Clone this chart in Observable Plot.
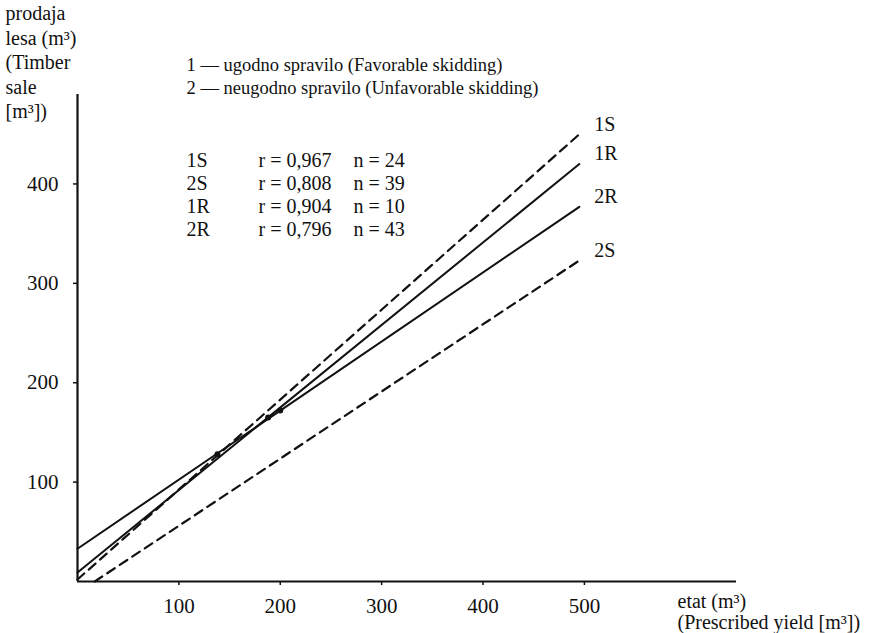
<!DOCTYPE html>
<html>
<head>
<meta charset="utf-8">
<script src="https://cdn.jsdelivr.net/npm/d3@7"></script>
<script src="https://cdn.jsdelivr.net/npm/@observablehq/plot@0.6"></script>
<style>
  html, body { margin: 0; padding: 0; background: #fff; }
  #chart svg { display: block; }
</style>
</head>
<body>
<div id="chart"></div>
<script>
// ---- data ----
const series = ["1S", "2S", "1R", "2R"];
const startX = [0, 17, 0, 0];
const startY = [2, 0, 9, 33];
const endX = [495, 495, 495, 495];
const endY = [450, 323, 420, 377];
const rValues = ["0,967", "0,808", "0,904", "0,796"];
const nValues = [24, 39, 10, 43];
const markX = [138, 188, 200];
const markY = [128, 165, 172];
const xTicks = [100, 200, 300, 400, 500];
const yTicks = [100, 200, 300, 400];
const yTitle = ["prodaja", "lesa (m³)", "(Timber", "sale", "[m³])"];
const legendLines = ["1 — ugodno spravilo (Favorable skidding)", "2 — neugodno spravilo (Unfavorable skidding)"];
const xTitle = ["etat (m³)", "(Prescribed yield [m³])"];

// ---- build tables ----
const pts = [];
series.forEach((s, i) => {
  pts.push({series: s, x: startX[i], y: startY[i]});
  pts.push({series: s, x: endX[i], y: endY[i]});
});
const ends = series.map((s, i) => ({series: s, x: endX[i], y: endY[i]}));
const marks = markX.map((x, i) => ({x, y: markY[i]}));
const isS = d => d.series.endsWith("S");

const font = "'Liberation Serif', 'Times New Roman', serif";
const fs = 20;

const chart = Plot.plot({
  width: 885,
  height: 633,
  marginLeft: 77,
  marginRight: 149,
  marginTop: 94,
  marginBottom: 52,
  style: {fontFamily: font, fontSize: fs + "px", background: "#fff", color: "#111"},
  x: {domain: [0, 650]},
  y: {domain: [0, 490]},
  marks: [
    Plot.ruleX([0], {stroke: "#111", strokeWidth: 2.2}),
    Plot.ruleY([0], {stroke: "#111", strokeWidth: 2.2}),
    Plot.axisX({ticks: xTicks, tickSize: 4, tickPadding: 13, fontSize: 21, label: null, stroke: "#111", strokeWidth: 1.5}),
    Plot.axisY({ticks: yTicks, tickSize: 4, tickPadding: 15, fontSize: 21, label: null, stroke: "#111", strokeWidth: 1.5}),
    Plot.line(pts.filter(d => !isS(d)), {x: "x", y: "y", z: "series", stroke: "#111", strokeWidth: 2}),
    Plot.line(pts.filter(isS), {x: "x", y: "y", z: "series", stroke: "#111", strokeWidth: 2.2, strokeDasharray: "9,6"}),
    Plot.dot(marks, {x: "x", y: "y", r: 3, fill: "#111"}),
    Plot.text(ends, {x: "x", y: "y", text: "series", dx: 15, dy: -10, textAnchor: "start", fontSize: fs, fill: "#111"}),
    // y axis title (top-left)
    Plot.text([yTitle.join("\n")], {frameAnchor: "top-left", dx: -72, dy: -91.5, lineAnchor: "top", lineHeight: 1.225, textAnchor: "start", fontSize: fs, fill: "#111"}),
    // legend
    Plot.text([legendLines.join("\n")], {frameAnchor: "top-left", dx: 109, dy: -39.5, lineAnchor: "top", lineHeight: 1.22, textAnchor: "start", fontSize: 18.5, fill: "#111"}),
    // statistics table
    Plot.text([series.join("\n")], {frameAnchor: "top-left", dx: 109, dy: 56.3, lineAnchor: "top", lineHeight: 1.15, textAnchor: "start", fontSize: fs, fill: "#111"}),
    Plot.text([rValues.map(r => "r = " + r).join("\n")], {frameAnchor: "top-left", dx: 181, dy: 56.3, lineAnchor: "top", lineHeight: 1.15, textAnchor: "start", fontSize: fs, fill: "#111"}),
    Plot.text([nValues.map(n => "n = " + n).join("\n")], {frameAnchor: "top-left", dx: 276, dy: 56.3, lineAnchor: "top", lineHeight: 1.15, textAnchor: "start", fontSize: fs, fill: "#111"}),
    // x axis title
    Plot.text([xTitle.join("\n")], {frameAnchor: "bottom-right", dx: -59, dy: 12, lineAnchor: "top", lineHeight: 1.05, textAnchor: "start", fontSize: fs, fill: "#111"})
  ]
});
document.getElementById("chart").appendChild(chart);
</script>
</body>
</html>
